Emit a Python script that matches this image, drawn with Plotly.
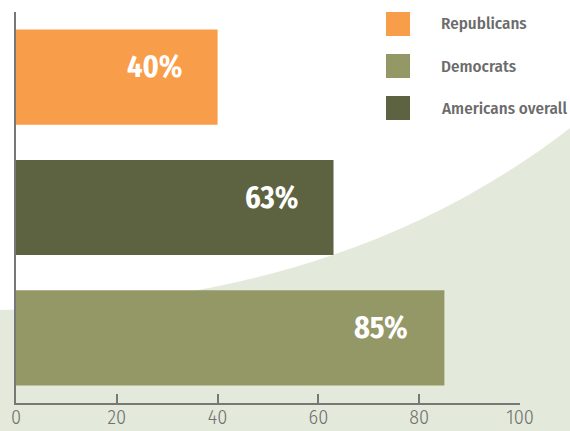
import plotly.graph_objects as go

# Share of each group, in percent
groups = ["Republicans", "Americans overall", "Democrats"]
values = [40, 63, 85]
colors = ["#f89e4a", "#5d6340", "#949766"]

# Legend order
legend_groups = ["Republicans", "Democrats", "Americans overall"]
legend_colors = ["#f89e4a", "#949766", "#5d6340"]

x_ticks = [0, 20, 40, 60, 80, 100]

FONT = "Fira Sans Condensed, Barlow Condensed, Asap Condensed, sans-serif"
W, H = 570, 431
ML, MR, MT, MB = 16, 50, 12, 28
PW, PH = W - ML - MR, H - MT - MB


def px(x):
    return (x - ML) / PW


def py(y):
    return (H - MB - y) / PH


fig = go.Figure()
fig.add_trace(go.Bar(
    y=groups, x=values, orientation="h",
    marker=dict(color=colors, line=dict(width=0)),
    showlegend=False, hoverinfo="skip",
))

# Value labels inside the bar ends
for g, v in zip(groups, values):
    fig.add_annotation(
        x=v, y=g, text=f"{v}%", showarrow=False,
        xanchor="right", xshift=-34, yshift=10,
        font=dict(family=FONT, size=30, color="white", weight=700),
    )

# Soft green swoosh in the background
p0 = (0, 310); c1 = (200, 305); c2 = (400, 260); p3 = (570, 128)
path = (f"M {px(-5)},{py(p0[1])} L {px(p0[0])},{py(p0[1])} "
        f"C {px(c1[0])},{py(c1[1])} {px(c2[0])},{py(c2[1])} {px(p3[0])},{py(p3[1])} "
        f"L {px(575)},{py(p3[1])} L {px(575)},{py(440)} L {px(-5)},{py(440)} Z")
fig.add_shape(type="path", path=path, xref="paper", yref="paper",
              fillcolor="#e4eadb", line=dict(width=0), layer="below")

# Legend boxes and labels
for i, (name, col) in enumerate(zip(legend_groups, legend_colors)):
    top = 12 + i * 42
    fig.add_shape(type="rect", xref="paper", yref="paper",
                  x0=px(386), x1=px(410), y0=py(top + 24), y1=py(top),
                  fillcolor=col, line=dict(width=0))
    fig.add_annotation(xref="paper", yref="paper", x=px(439), y=py(top + 12),
                       text=name, showarrow=False,
                       xanchor="left", yanchor="middle",
                       font=dict(family=FONT, size=17, color="#6b6b6b", weight=500))

fig.update_layout(
    width=W, height=H,
    margin=dict(l=ML, r=MR, t=MT, b=MB),
    paper_bgcolor="white", plot_bgcolor="rgba(0,0,0,0)",
    bargap=0.27,
    xaxis=dict(range=[0, 100], tickvals=x_ticks, showgrid=False, zeroline=False,
               automargin=False,
               showline=True, linecolor="#777777", linewidth=2,
               ticks="inside", ticklen=9, tickwidth=2, tickcolor="#777777",
               ticklabelstandoff=-5,
               tickfont=dict(family=FONT, size=20, color="#707070", weight=300)),
    yaxis=dict(categoryorder="array", categoryarray=groups, range=[2.5, -0.5],
               automargin=False,
               showgrid=False, zeroline=False, showticklabels=False,
               showline=True, linecolor="#777777", linewidth=2, ticks=""),
)

fig.write_html("out.html")
